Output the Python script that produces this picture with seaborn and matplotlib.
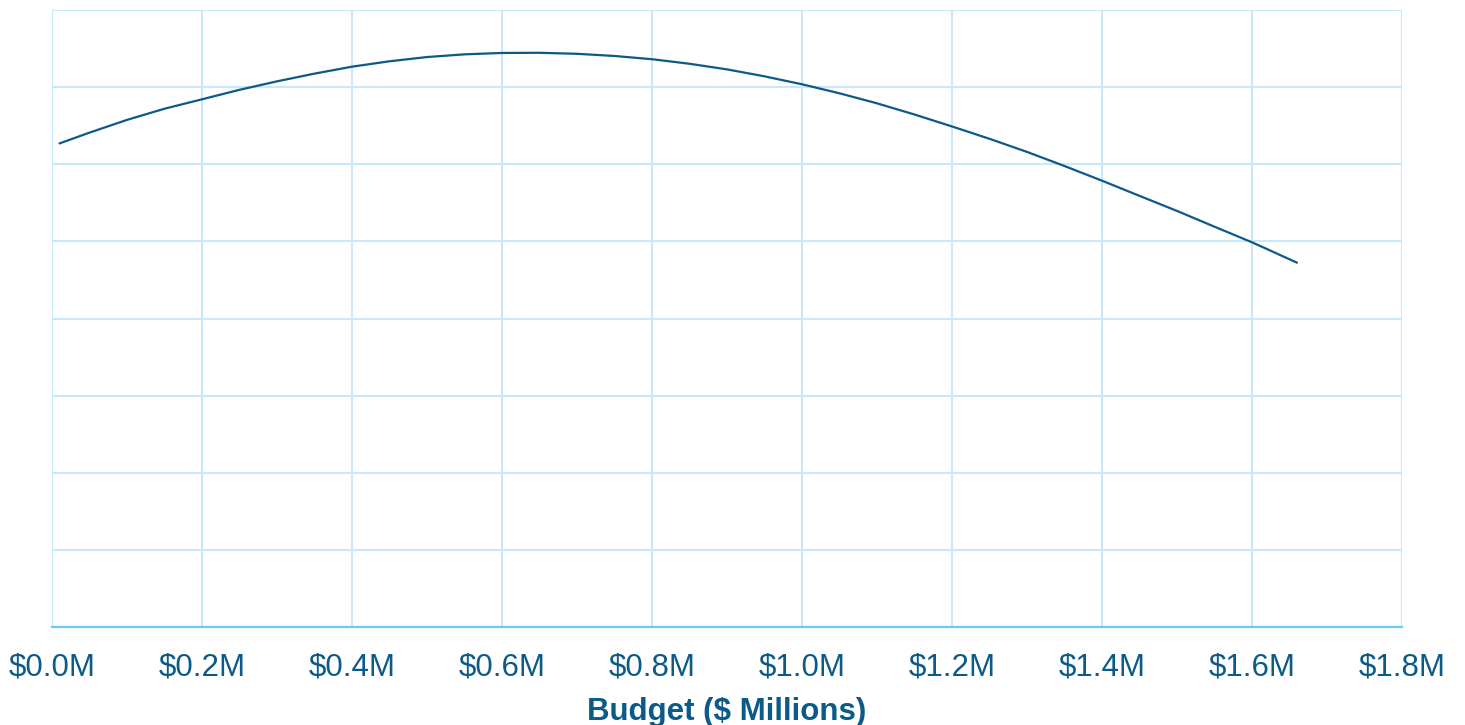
import numpy as np
import pandas as pd
import seaborn as sns
import matplotlib.pyplot as plt
from matplotlib.ticker import FuncFormatter

# budget in $ millions and the (unlabelled) response curve
budget = [0.01, 0.05, 0.1, 0.15, 0.2, 0.25, 0.3, 0.35, 0.4, 0.45, 0.5, 0.55, 0.6, 0.65,
          0.7, 0.75, 0.8, 0.85, 0.9, 0.95, 1.0, 1.05, 1.1, 1.15, 1.2, 1.25, 1.3, 1.35,
          1.4, 1.45, 1.5, 1.55, 1.6, 1.66]
response = [6.27, 6.41, 6.575, 6.72, 6.842, 6.965, 7.075, 7.175, 7.265, 7.335, 7.39, 7.425, 7.443, 7.445,
            7.432, 7.404, 7.362, 7.303, 7.23, 7.14, 7.037, 6.92, 6.79, 6.645, 6.49, 6.33, 6.16, 5.977,
            5.787, 5.59, 5.395, 5.19, 4.988, 4.724]
x_ticks = [0.0, 0.2, 0.4, 0.6, 0.8, 1.0, 1.2, 1.4, 1.6, 1.8]

df = pd.DataFrame({"Budget": budget, "Response": response})

sns.set_style("white")
plt.rcParams['font.family'] = ['Liberation Sans', 'DejaVu Sans']

fig = plt.figure(figsize=(14.65, 7.25), dpi=100)
ax = fig.add_axes([52/1465, 1 - 627/725, 1350/1465, 617/725])

sns.lineplot(data=df, x="Budget", y="Response", ax=ax, color="#0b5a87", linewidth=1.6)

ax.set_xlim(0, 1.8)
ax.set_ylim(0, 8)
ax.set_xticks(x_ticks)
ax.set_yticks(np.arange(0, 9, 1))
ax.xaxis.set_major_formatter(FuncFormatter(lambda v, p: f"${v:.1f}M"))
ax.set_yticklabels([])
ax.grid(True, color="#c9e8fb", linewidth=1.5)
ax.set_axisbelow(True)

for s in ["top", "right", "left"]:
    ax.spines[s].set_visible(False)
ax.spines["bottom"].set_color("#6ec8f8")
ax.spines["bottom"].set_linewidth(1.6)

ax.tick_params(axis="x", length=0, pad=18, labelsize=22.5, labelcolor="#0b5a87")
ax.tick_params(axis="y", length=0)
ax.set_xlabel("Budget ($ Millions)", fontsize=22.5, fontweight="bold", color="#0b5a87", labelpad=11)
ax.set_ylabel("")

fig.savefig("out.png", dpi=100)
